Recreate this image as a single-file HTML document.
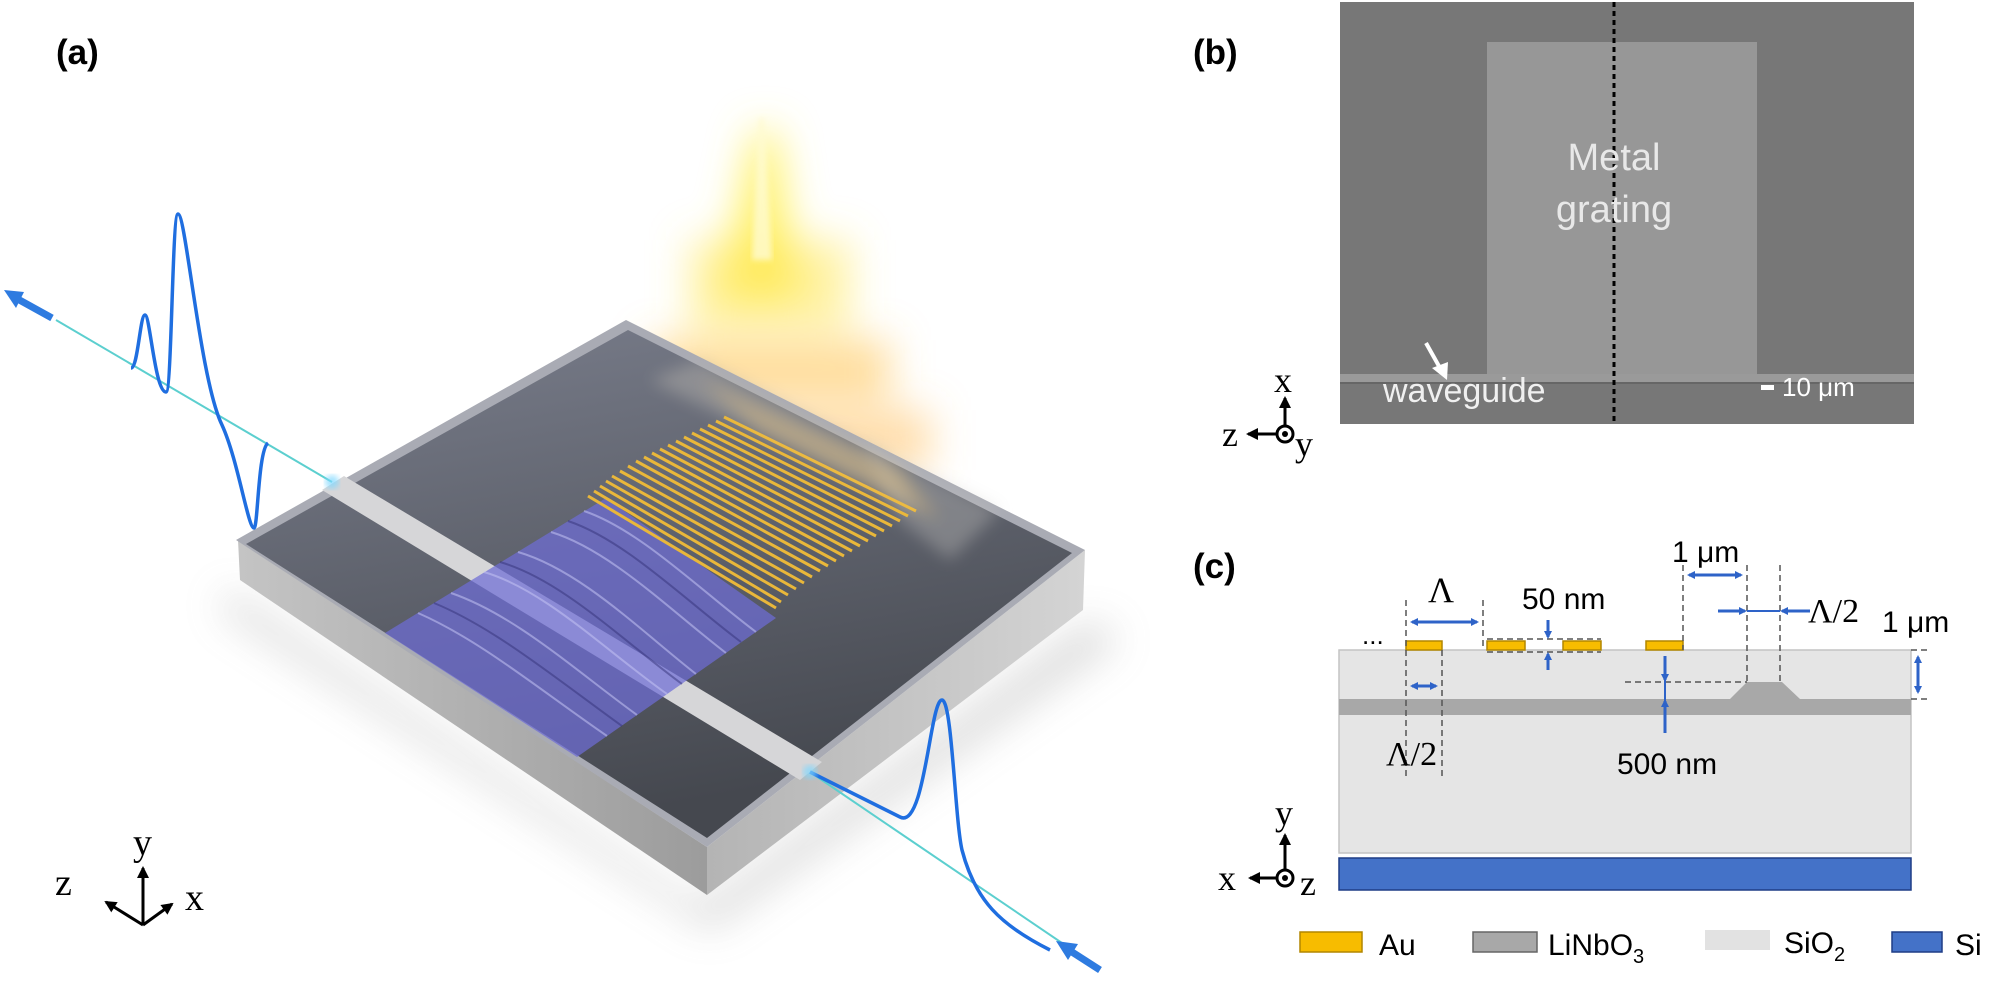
<!DOCTYPE html>
<html><head><meta charset="utf-8"><style>
html,body{margin:0;padding:0;background:#fff;}
svg{display:block;}
.lab{font-family:"Liberation Sans",sans-serif;font-weight:bold;font-size:35px;fill:#000;}
.ser{font-family:"Liberation Serif",serif;fill:#000;}
.sans{font-family:"Liberation Sans",sans-serif;fill:#000;}
</style></head><body>
<svg width="2001" height="981" viewBox="0 0 2001 981" xmlns="http://www.w3.org/2000/svg">
<defs>
<filter id="b8" x="-50%" y="-50%" width="200%" height="200%"><feGaussianBlur stdDeviation="8"/></filter>
<filter id="b20" x="-50%" y="-50%" width="200%" height="200%"><feGaussianBlur stdDeviation="20"/></filter>
<filter id="b3"><feGaussianBlur stdDeviation="3"/></filter>
<linearGradient id="top" x1="0" y1="0" x2="0.3" y2="1">
<stop offset="0" stop-color="#7a7e8c"/><stop offset="1" stop-color="#45484f"/></linearGradient>
<linearGradient id="front" x1="0" y1="0" x2="1" y2="0">
<stop offset="0" stop-color="#c4c4c4"/><stop offset="1" stop-color="#9c9c9c"/></linearGradient>
<linearGradient id="right" x1="0" y1="0" x2="1" y2="0">
<stop offset="0" stop-color="#b4b4b4"/><stop offset="1" stop-color="#d4d4d4"/></linearGradient>
<marker id="ah" markerWidth="8" markerHeight="8" refX="6" refY="4" orient="auto" markerUnits="userSpaceOnUse"><path d="M0,0 L8,4 L0,8 z" fill="#2e63c8"/></marker>
<marker id="ak" markerWidth="12" markerHeight="12" refX="10" refY="6" orient="auto" markerUnits="userSpaceOnUse"><path d="M0,0 L12,6 L0,12 z" fill="#000"/></marker>
</defs>

<text class="lab" x="56" y="64">(a)</text>

<polygon points="230,590 700,905 1090,620 1120,640 710,930 220,610" fill="#999" opacity="0.35" filter="url(#b20)"/>

<g filter="url(#b20)">
<polygon points="755,130 775,130 800,300 720,300" fill="#ffef55" opacity="0.9"/>
<rect x="690" y="240" width="160" height="90" fill="#ffe85a" opacity="0.55"/>
<rect x="650" y="340" width="240" height="60" fill="#ffc14d" opacity="0.55"/>
<rect x="640" y="410" width="290" height="60" fill="#ffbb55" opacity="0.5"/>
</g>
<polygon points="759,118 764,118 772,260 752,260" fill="#fffbd0" opacity="0.8" filter="url(#b3)"/>

<polygon points="238,540 707,847 707,895 240,580" fill="url(#front)"/>
<polygon points="707,847 1085,550 1083,610 707,895" fill="url(#right)"/>
<polygon points="236,540 626,320 1085,550 707,847" fill="#a9abb4"/>
<polygon points="246,544 628,330 1072,553 707,838" fill="url(#top)"/>

<polygon points="700,360 880,452 916,511 724,417 650,380" fill="#b7b4ae" opacity="0.45" filter="url(#b8)"/>
<polygon points="860,440 1000,510 950,560 900,520" fill="#c8c6c2" opacity="0.35" filter="url(#b8)"/>

<polygon points="322,490 344,476 822,762 800,780" fill="#d6d6d8"/>

<polygon points="606,498 776,618 577,757 385,633" fill="#6e6cd6" opacity="0.72"/>
<g stroke="#c4c4f4" stroke-width="2" fill="none" opacity="0.55">
<path d="M418,613 C480,640 540,690 607,736"/>
<path d="M451,593 C515,615 575,670 637,715"/>
<path d="M484,572 C545,590 605,650 667,694"/>
<path d="M518,552 C580,570 640,630 696,674"/>
<path d="M551,532 C610,550 670,610 726,653"/>
<path d="M584,511 C640,530 700,590 756,632"/>
</g>
<g stroke="#35337a" stroke-width="2" fill="none" opacity="0.5">
<path d="M434,603 C495,628 558,680 622,726"/>
<path d="M500,562 C562,580 622,640 682,684"/>
<path d="M568,521 C625,540 685,600 741,642"/>
</g>

<g stroke="#e9b73a" stroke-width="3">
<line x1="724" y1="417" x2="916" y2="511"/>
<line x1="716" y1="421" x2="908" y2="516"/>
<line x1="708" y1="425" x2="900" y2="521"/>
<line x1="700" y1="429" x2="892" y2="526"/>
<line x1="692" y1="433" x2="884" y2="531"/>
<line x1="684" y1="437" x2="876" y2="536"/>
<line x1="676" y1="441" x2="868" y2="541"/>
<line x1="668" y1="445" x2="860" y2="546"/>
<line x1="660" y1="449" x2="852" y2="551"/>
<line x1="652" y1="453" x2="844" y2="556"/>
<line x1="644" y1="457" x2="836" y2="561"/>
<line x1="636" y1="461" x2="828" y2="566"/>
<line x1="628" y1="466" x2="820" y2="571"/>
<line x1="620" y1="471" x2="812" y2="577"/>
<line x1="612" y1="476" x2="804" y2="583"/>
<line x1="606" y1="481" x2="796" y2="589"/>
<line x1="600" y1="486" x2="788" y2="595"/>
<line x1="594" y1="491" x2="781" y2="602"/>
<line x1="588" y1="496" x2="776" y2="608"/>
</g>
<polygon points="700,380 900,470 940,520 760,430" fill="#ffd27a" opacity="0.35" filter="url(#b8)"/>

<line x1="56" y1="320" x2="332" y2="482" stroke="#5ccfcf" stroke-width="2"/>
<line x1="52" y1="318" x2="14" y2="297" stroke="#2e7be0" stroke-width="7"/>
<polygon points="4,290 24,292 16,308" fill="#2e7be0"/>
<path d="M131,368 C138,368 140,315 145,315 C150,315 155,392 166,392 C172,392 172,214 178,214 C186,214 200,380 222,425 C238,460 248,528 254,528 C258,528 258,450 268,443" stroke="#1f6ee0" stroke-width="3.5" fill="none"/>
<circle cx="332" cy="482" r="7" fill="#7fd8ff" opacity="0.7" filter="url(#b3)"/>

<line x1="810" y1="772" x2="1090" y2="962" stroke="#5ccfcf" stroke-width="2"/>
<path d="M810,772 L900,817 C925,830 930,700 942,700 C952,700 955,820 962,850 C975,900 1000,925 1050,950" stroke="#1f6ee0" stroke-width="3.5" fill="none"/>
<line x1="1100" y1="970" x2="1072" y2="952" stroke="#2e7be0" stroke-width="7"/>
<polygon points="1056,941 1078,944 1068,960" fill="#2e7be0"/>
<circle cx="810" cy="772" r="7" fill="#7fd8ff" opacity="0.7" filter="url(#b3)"/>

<g stroke="#000" stroke-width="3">
<line x1="143" y1="925" x2="143" y2="868" marker-end="url(#ak)"/>
<line x1="143" y1="925" x2="106" y2="902" marker-end="url(#ak)"/>
<line x1="143" y1="925" x2="172" y2="904" marker-end="url(#ak)"/>
</g>
<text class="ser" x="133" y="855" font-size="38">y</text>
<text class="ser" x="55" y="895" font-size="38">z</text>
<text class="ser" x="185" y="910" font-size="38">x</text>

<text class="lab" x="1193" y="64">(b)</text>
<rect x="1340" y="2" width="574" height="422" fill="#777"/>
<rect x="1487" y="42" width="270" height="332" fill="#979797"/>
<rect x="1340" y="374" width="574" height="8" fill="#9a9a9a"/>
<rect x="1340" y="382" width="574" height="2" fill="#666"/>
<line x1="1614" y1="2" x2="1614" y2="424" stroke="#000" stroke-width="3" stroke-dasharray="5,4"/>
<text class="sans" x="1614" y="170" font-size="38" text-anchor="middle" style="fill:#e8e8e8">Metal</text>
<text class="sans" x="1614" y="222" font-size="38" text-anchor="middle" style="fill:#e8e8e8">grating</text>
<text class="sans" x="1383" y="402" font-size="34" style="fill:#f0f0f0">waveguide</text>
<line x1="1426" y1="343" x2="1440" y2="368" stroke="#fff" stroke-width="4"/>
<polygon points="1432,368 1448,362 1447,380" fill="#fff"/>
<rect x="1761" y="385" width="13" height="5" fill="#fff"/>
<text class="sans" x="1782" y="396" font-size="26" style="fill:#fff">10 μm</text>

<g stroke="#000" stroke-width="3">
<line x1="1285" y1="434" x2="1285" y2="398" marker-end="url(#ak)"/>
<line x1="1277" y1="434" x2="1248" y2="434" marker-end="url(#ak)"/>
</g>
<circle cx="1285" cy="434" r="8" fill="#fff" stroke="#000" stroke-width="3"/>
<circle cx="1285" cy="434" r="3" fill="#000"/>
<text class="ser" x="1274" y="392" font-size="36">x</text>
<text class="ser" x="1222" y="446" font-size="36">z</text>
<text class="ser" x="1295" y="456" font-size="36">y</text>

<text class="lab" x="1193" y="578">(c)</text>
<rect x="1339" y="650" width="572" height="203" fill="#e5e5e5" stroke="#c4c4c4" stroke-width="1.5"/>
<rect x="1339" y="699" width="572" height="16" fill="#a8a8a8"/>
<polygon points="1730,699 1747,682 1782,682 1800,699" fill="#a8a8a8"/>
<rect x="1339" y="858" width="572" height="32" fill="#4472c8" stroke="#1f3d86" stroke-width="1.5"/>
<g fill="#f7bc00" stroke="#b28600" stroke-width="1.5">
<rect x="1406" y="641" width="36" height="9"/>
<rect x="1487" y="641" width="38" height="9"/>
<rect x="1563" y="641" width="38" height="9"/>
<rect x="1646" y="641" width="37" height="9"/>
</g>
<text class="sans" x="1362" y="644" font-size="26">...</text>
<g stroke="#555" stroke-width="1.5" stroke-dasharray="6,4" fill="none">
<line x1="1406" y1="600" x2="1406" y2="778"/>
<line x1="1442" y1="650" x2="1442" y2="778"/>
<line x1="1483" y1="600" x2="1483" y2="650"/>
<line x1="1487" y1="639" x2="1601" y2="639"/>
<line x1="1487" y1="652" x2="1601" y2="652"/>
<line x1="1683" y1="565" x2="1683" y2="650"/>
<line x1="1747" y1="565" x2="1747" y2="682"/>
<line x1="1780" y1="565" x2="1780" y2="682"/>
<line x1="1625" y1="682" x2="1747" y2="682"/>
<line x1="1911" y1="650" x2="1930" y2="650"/>
<line x1="1911" y1="699" x2="1930" y2="699"/>
</g>
<g stroke="#2e63c8" stroke-width="3">
<line x1="1412" y1="622" x2="1477" y2="622" marker-end="url(#ah)"/>
<line x1="1477" y1="622" x2="1412" y2="622" marker-end="url(#ah)"/>
<line x1="1412" y1="686" x2="1436" y2="686" marker-end="url(#ah)"/>
<line x1="1436" y1="686" x2="1412" y2="686" marker-end="url(#ah)"/>
<line x1="1689" y1="575" x2="1741" y2="575" marker-end="url(#ah)"/>
<line x1="1741" y1="575" x2="1689" y2="575" marker-end="url(#ah)"/>
<line x1="1718" y1="611" x2="1745" y2="611" marker-end="url(#ah)"/>
<line x1="1810" y1="611" x2="1782" y2="611" marker-end="url(#ah)"/>
<line x1="1548" y1="620" x2="1548" y2="637" marker-end="url(#ah)"/>
<line x1="1548" y1="670" x2="1548" y2="654" marker-end="url(#ah)"/>
<line x1="1665" y1="656" x2="1665" y2="680" marker-end="url(#ah)"/>
<line x1="1665" y1="733" x2="1665" y2="701" marker-end="url(#ah)"/>
<line x1="1918" y1="657" x2="1918" y2="692" marker-end="url(#ah)"/>
<line x1="1918" y1="692" x2="1918" y2="657" marker-end="url(#ah)"/>
</g>
<line x1="1747" y1="611" x2="1780" y2="611" stroke="#2e63c8" stroke-width="2"/>
<line x1="1665" y1="680" x2="1665" y2="701" stroke="#2e63c8" stroke-width="2"/>

<text class="ser" x="1428" y="602" font-size="36">Λ</text>
<text class="sans" x="1522" y="609" font-size="30">50 nm</text>
<text class="sans" x="1672" y="562" font-size="30">1 μm</text>
<text class="ser" x="1808" y="622" font-size="34">Λ/2</text>
<text class="sans" x="1882" y="632" font-size="30">1 μm</text>
<text class="ser" x="1386" y="765" font-size="34">Λ/2</text>
<text class="sans" x="1617" y="774" font-size="30">500 nm</text>

<g stroke="#000" stroke-width="3">
<line x1="1285" y1="878" x2="1285" y2="835" marker-end="url(#ak)"/>
<line x1="1277" y1="878" x2="1250" y2="878" marker-end="url(#ak)"/>
</g>
<circle cx="1285" cy="878" r="8" fill="#fff" stroke="#000" stroke-width="3"/>
<circle cx="1285" cy="878" r="3" fill="#000"/>
<text class="ser" x="1275" y="825" font-size="36">y</text>
<text class="ser" x="1218" y="890" font-size="36">x</text>
<text class="ser" x="1300" y="895" font-size="36">z</text>

<rect x="1300" y="932" width="62" height="20" fill="#f7bc00" stroke="#b28600" stroke-width="1.5"/>
<text class="sans" x="1379" y="955" font-size="30">Au</text>
<rect x="1473" y="932" width="64" height="20" fill="#a8a8a8" stroke="#666" stroke-width="1.5"/>
<text class="sans" x="1548" y="955" font-size="30">LiNbO<tspan font-size="20" dy="8">3</tspan></text>
<rect x="1705" y="930" width="65" height="20" fill="#e2e2e2"/>
<text class="sans" x="1784" y="953" font-size="30">SiO<tspan font-size="20" dy="8">2</tspan></text>
<rect x="1892" y="932" width="50" height="20" fill="#4472c8" stroke="#1f3d86" stroke-width="1.5"/>
<text class="sans" x="1955" y="955" font-size="30">Si</text>
</svg>
</body></html>
